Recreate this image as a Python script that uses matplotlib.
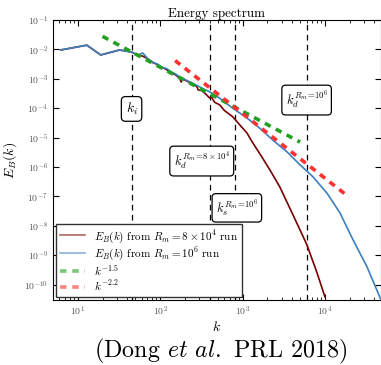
import matplotlib
matplotlib.use("Agg")
import matplotlib.pyplot as plt
import numpy as np

plt.rcParams['font.family'] = 'serif'
plt.rcParams['font.serif'] = ['cmr10', 'DejaVu Serif']
plt.rcParams['mathtext.fontset'] = 'cm'
plt.rcParams['axes.unicode_minus'] = False
plt.rcParams['axes.formatter.use_mathtext'] = True

# magnetic energy spectrum, Rm = 8e4 run
k_lo = [6.2, 12.9, 19, 32, 45, 48, 53.6, 58, 62, 69, 81, 92, 105, 112, 121,
        138, 155, 173, 180, 186, 210, 240, 279, 290, 320, 360, 401, 420,
        459, 530, 600, 763, 929, 1130, 1336, 1720, 2150, 2840, 4090, 6040,
        8000, 10000]
E_lo = [9.6e-3, 1.4e-2, 6.5e-3, 9.6e-3, 8.2e-3, 7.4e-3, 6.4e-3, 6.2e-3,
        5.9e-3, 5.0e-3, 3.6e-3, 3.1e-3, 2.4e-3, 2.3e-3, 2.0e-3, 1.6e-3,
        1.35e-3, 1.05e-3, 7.8e-4, 1.0e-3, 8.5e-4, 7.0e-4, 5.5e-4, 4.2e-4,
        4.0e-4, 3.0e-4, 2.2e-4, 2.4e-4, 1.6e-4, 1.3e-4, 8.5e-5, 5.1e-5,
        2.7e-5, 1.45e-5, 6.6e-6, 2.2e-6, 8.0e-7, 2.1e-7, 2.4e-8, 2.3e-9,
        2.6e-10, 3.9e-11]

# magnetic energy spectrum, Rm = 1e6 run
k_hi = [6.2, 12.9, 19, 32, 45, 48, 53.6, 61.7, 69, 81, 92, 105, 121, 138,
        155, 173, 200, 230, 303, 400, 528, 763, 1130, 1620, 2330, 3460,
        4980, 7150, 10600, 15200, 21900, 32400, 44000, 48000]
E_hi = [9.6e-3, 1.4e-2, 6.5e-3, 9.6e-3, 8.2e-3, 7.6e-3, 6.5e-3, 7.6e-3,
        5.2e-3, 3.7e-3, 3.2e-3, 2.5e-3, 2.2e-3, 1.7e-3, 1.45e-3, 1.15e-3,
        9.5e-4, 7.9e-4, 5.3e-4, 3.6e-4, 2.2e-4, 1.0e-4, 4.7e-5, 2.1e-5,
        8.3e-6, 3.3e-6, 1.2e-6, 4.7e-7, 1.3e-7, 2.8e-8, 3.4e-9, 4.1e-10,
        5.4e-11, 3.0e-11]

# reference power laws
k_fit1 = [20, 5000]
c_fit1 = 2.5
k_fit2 = [152, 19600]
c_fit2 = 265

# characteristic wavenumbers
k_i = 45
k_d_lo = 405
k_s_hi = 800
k_d_hi = 6000

fig = plt.figure(figsize=(3.81, 3.65), dpi=100)
ax = fig.add_axes([0.139, 0.178, 0.861, 0.767])

for kv in [k_i, k_d_lo, k_s_hi, k_d_hi]:
    ax.axvline(kv, color='k', ls=(0, (4.5, 3.5)), lw=0.9, zorder=1)

ax.plot(k_lo, E_lo, color='#7a0000', lw=1.2, zorder=2,
        label=r'$E_B(k)$ from $R_m=8\times10^4$ run')
ax.plot(k_hi, E_hi, color='#3a80c0', lw=1.2, zorder=3,
        label=r'$E_B(k)$ from $R_m=10^6$ run')

kf1 = np.array(k_fit1, dtype=float)
kf2 = np.array(k_fit2, dtype=float)
ax.plot(kf1, c_fit1 * kf1 ** -1.5, ls=(0, (1.8, 1.6)), lw=2.6,
        color='#22a022', zorder=4, label=r'$k^{-1.5}$')
ax.plot(kf2, c_fit2 * kf2 ** -2.2, ls=(0, (1.8, 1.6)), lw=2.6,
        color='#ff3030', zorder=4, label=r'$k^{-2.2}$')

box = dict(boxstyle='round,pad=0.3', fc='white', ec='k', lw=0.9)
ax.text(k_i, 9.5e-5, r'$k_i$', fontsize=10, ha='center', va='center',
        bbox=box, zorder=5)
ax.text(320, 1.6e-6, r'$k_d^{R_m\!=\!8\times10^4}$', fontsize=9,
        ha='center', va='center', bbox=box, zorder=5)
ax.text(854, 4.1e-8, r'$k_s^{R_m\!=\!10^6}$', fontsize=9,
        ha='center', va='center', bbox=box, zorder=5)
ax.text(6000, 1.9e-4, r'$k_d^{R_m\!=\!10^6}$', fontsize=9,
        ha='center', va='center', bbox=box, zorder=5)

ax.set_xscale('log')
ax.set_yscale('log')
ax.set_xlim(5.0, 4.8e4)
ax.set_ylim(3e-11, 1e-1)
ax.set_yticks([10.0 ** p for p in range(-10, 0)])
ax.tick_params(which='both', direction='in', top=True, right=True,
               labelsize=7, labelcolor='#555555')
ax.tick_params(which='major', length=4)
ax.tick_params(which='minor', length=2)
ax.set_title('Energy spectrum', fontsize=9.4, pad=2)
ax.set_xlabel(r'$k$', fontsize=10, labelpad=1)
ax.set_ylabel(r'$E_B(k)$', fontsize=10)

leg = ax.legend(loc='lower left', fontsize=8, fancybox=False,
                framealpha=1, edgecolor='#333333', borderaxespad=0.3,
                handlelength=2.2, labelspacing=0.05, borderpad=0.35)
for h in leg.get_lines():
    h.set_alpha(0.6)

fig.text(0.58, 0.036, r'(Dong $et$ $al.$ PRL 2018)', fontsize=17.3,
         ha='center', va='center')

fig.savefig('out.png', dpi=100)
